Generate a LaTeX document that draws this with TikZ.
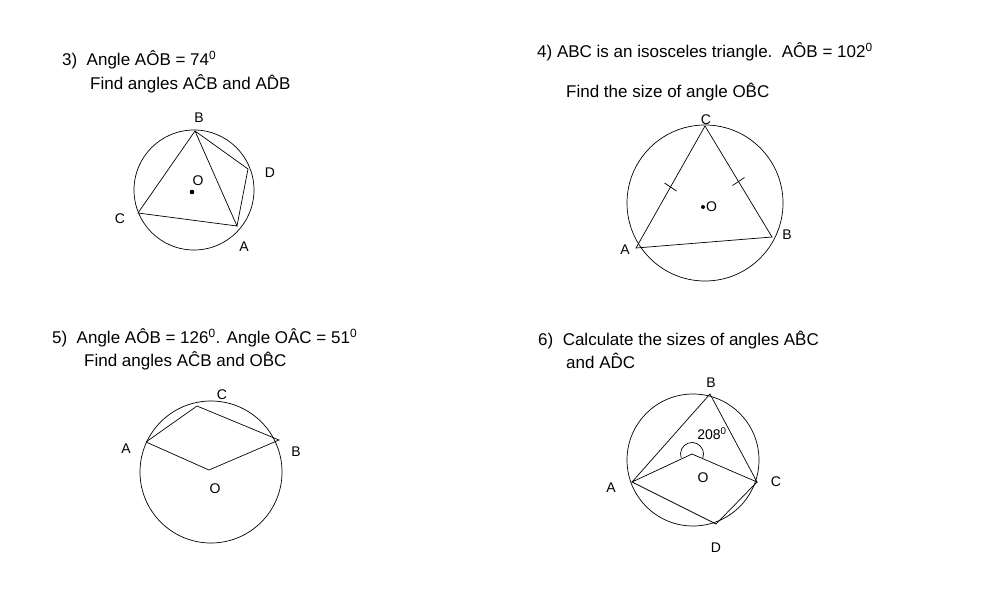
\documentclass[tikz,border=0pt]{standalone}
\usepackage{fontspec}
\setmainfont{Liberation Sans}
\usetikzlibrary{calc}
\begin{document}
\begin{tikzpicture}[x=1pt,y=-1pt,
  txt/.style={anchor=west,inner sep=0pt,font=\fontsize{17}{20}\selectfont},
  lbl/.style={inner sep=0pt,font=\fontsize{14}{16}\selectfont},
  circ/.style={draw,line width=0.7pt},
  ln/.style={line width=0.7pt}]
\useasboundingbox (0,0) rectangle (1006,611);
% headers
\node[txt] (t3a) at (62,60) {3)\ \ Angle A\^{O}B = 74\textsuperscript{0}};
\node[txt] (t3b) at (90,84) {Find angles A\^{C}B and A\^{D}B};
\node[txt] (t4a) at (537,52) {4) ABC is an isosceles triangle.\ \ A\^{O}B = 102\textsuperscript{0}};
\node[txt] (t4b) at (566,92) {Find the size of angle O\^{B}C};
\node[txt] (t5a) at (52,338) {5)\ \ Angle A\^{O}B = 126\textsuperscript{0}. Angle O\^{A}C = 51\textsuperscript{0}};
\node[txt] (t5b) at (84,361) {Find angles A\^{C}B and O\^{B}C};
\node[txt] (t6a) at (538,340) {6)\ \ Calculate the sizes of angles A\^{B}C};
\node[txt] (t6b) at (566,361) {and A\^{D}C};
% diagram 3
\draw[circ] (194,190) circle (60);
\coordinate (B3) at (195,131); \coordinate (D3) at (248,169);
\coordinate (A3) at (237,226); \coordinate (C3) at (138,213);
\draw[ln] (B3)--(D3)--(A3)--(B3)--(C3)--(A3);
\fill (192,192) circle (2.3);
\node[lbl] (O3) at (198,181) {O};
\node[lbl] (lB3) at (199,118) {B};
\node[lbl] (lD3) at (270,173) {D};
\node[lbl] (lC3) at (120,219) {C};
\node[lbl] (lA3) at (244,247) {A};
% diagram 4
\draw[circ] (705,203) circle (78);
\coordinate (C4) at (705,126); \coordinate (A4) at (636,248); \coordinate (B4) at (772,237);
\draw[ln] (C4)--(A4)--(B4)--(C4);
\draw[ln] ($(C4)!0.5!(A4)$) ++(-6,-4) -- ++(12,8);
\draw[ln] ($(C4)!0.5!(B4)$) ++(-6,4) -- ++(12,-8);
\fill (703,207) circle (2);
\node[lbl,anchor=west] (O4) at (706,207) {O};
\node[lbl] (lC4) at (706,120) {C};
\node[lbl] (lA4) at (625,250) {A};
\node[lbl] (lB4) at (787,235) {B};
% diagram 5
\draw[circ] (211,472) circle (71);
\coordinate (C5) at (197,406); \coordinate (A5) at (146,442);
\coordinate (B5) at (279,440); \coordinate (O5) at (209,470);
\draw[ln] (A5)--(C5)--(B5)--(O5)--(A5);
\node[lbl] (lO5) at (215,489) {O};
\node[lbl] (lC5) at (222,395) {C};
\node[lbl] (lA5) at (126,449) {A};
\node[lbl] (lB5) at (296,452) {B};
% diagram 6
\draw[circ] (693,460) circle (66);
\coordinate (B6) at (710,394); \coordinate (A6) at (632,482);
\coordinate (C6) at (757,482); \coordinate (D6) at (716,524); \coordinate (O6) at (692,454);
\draw[ln] (A6)--(B6)--(C6)--(O6)--(A6)--(D6)--(C6);
\draw[ln] (681.2,457.9) arc[start angle=160, end angle=380, radius=11.5];
\node[lbl] (lO6) at (703,478) {O};
\node[lbl] (ang) at (712,434) {208\textsuperscript{0}};
\node[lbl] (lB6) at (711,383) {B};
\node[lbl] (lA6) at (611,488) {A};
\node[lbl] (lC6) at (776,482) {C};
\node[lbl] (lD6) at (716,548) {D};
\end{tikzpicture}
\end{document}
